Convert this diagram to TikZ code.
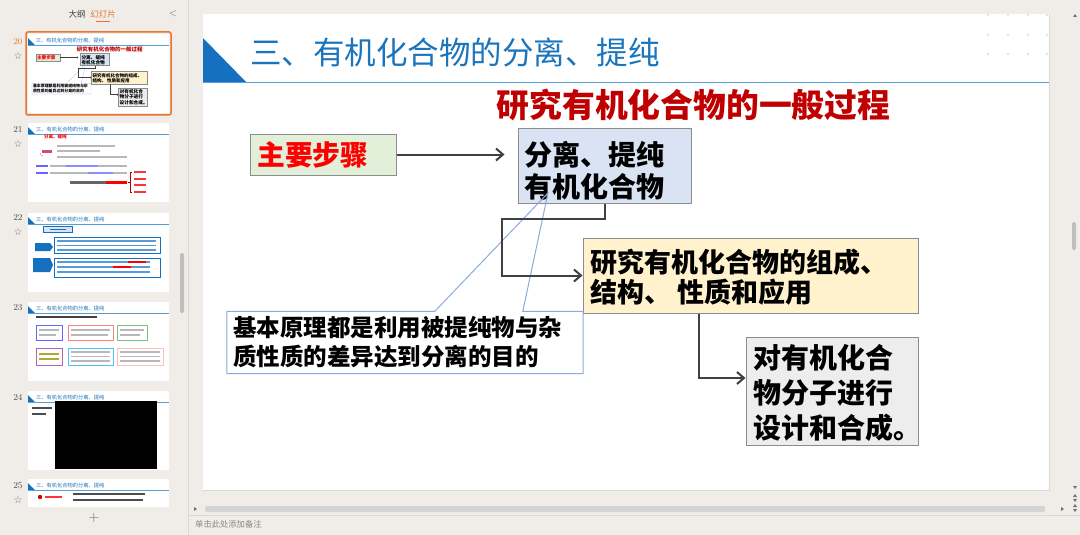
\documentclass[tikz,border=0pt]{standalone}
\usepackage{fontspec}
\newfontfamily\cjk{Noto Sans CJK SC}
\newfontfamily\dejavu{DejaVu Sans}
\usetikzlibrary{arrows.meta,calc}
\definecolor{pagebg}{HTML}{F0EDE8}
\definecolor{sepline}{HTML}{DCD8D2}
\definecolor{titleblue}{HTML}{1B75BC}
\definecolor{triblue}{HTML}{1570C0}
\definecolor{lineblue}{HTML}{5A9FD4}
\definecolor{dotblue}{HTML}{D6E6F4}
\definecolor{boxgray}{HTML}{8C8C8C}
\definecolor{fillgreen}{HTML}{E2EFD9}
\definecolor{fillblue}{HTML}{DAE3F3}
\definecolor{fillyellow}{HTML}{FFF2CC}
\definecolor{fillgray}{HTML}{EDEDED}
\definecolor{conngray}{HTML}{404040}
\definecolor{subred}{HTML}{C00000}
\definecolor{calloutblue}{HTML}{8FAADC}
\definecolor{selorange}{HTML}{E8742E}
\definecolor{uigray}{HTML}{8A8784}
\definecolor{bargray}{HTML}{B8B8B8}
\def\sf{1}
\tikzset{
  box/.style={draw=boxgray, line width=\sf*1pt, inner sep=0pt},
  boxtext/.style={inner sep=0pt, anchor=west, align=left},
  conn/.style={draw=conngray, line width=\sf*2pt, -{Straight Barb[length=0pt 3.5,width=0pt 6]}},
  uitext/.style={inner sep=0pt, font=\cjk\fontsize{9}{10}\selectfont, text=uigray},
}
% whole slide, slide-local coordinates in px
\newcommand\slidecontent{%
  \fill[white] (0,0) rectangle (846,476);
  \fill[triblue] (0,24) -- (0,69) -- (44,69) -- cycle;
  \draw[lineblue, line width=\sf*1pt] (0,69) -- (846,69);
  \foreach \dx in {785,805,825,844}{\foreach \dy in {1,21,40}{\fill[dotblue] (\dx,\dy) circle (1.3);}}
  \node[inner sep=0pt, anchor=west, text=titleblue, font=\cjk\fontsize{31.5}{34}\selectfont] (ttl) at (47,38) {三、有机化合物的分离、提纯};
  \node[inner sep=0pt, text=subred, font=\cjk\bfseries\fontsize{32.8}{36}\selectfont] (sub) at (490.5,91) {研究有机化合物的一般过程};
  % boxes
  \node[box, fill=fillgreen, minimum width=146, minimum height=41] (b0) at (120,140.5) {};
  \node[box, fill=fillblue, minimum width=173, minimum height=75] (b1) at (401.5,151.5) {};
  \node[box, fill=fillyellow, minimum width=335, minimum height=75] (b2) at (547.5,261.5) {};
  \node[box, fill=fillgray, minimum width=172, minimum height=108] (b3) at (629,377) {};
  \node[boxtext, text=red, font=\cjk\bfseries\fontsize{27.8}{32}\selectfont] (t0) at (54,141) {主要步骤};
  \node[boxtext, font=\cjk\bfseries\fontsize{28}{32}\selectfont] (t1) at (321,157) {分离、提纯\\有机化合物};
  \node[boxtext, font=\cjk\bfseries\fontsize{27}{30}\selectfont] (t2) at (387,263) {研究有机化合物的组成、\\结构、 性质和应用};
  \node[boxtext, font=\cjk\bfseries\fontsize{28}{35}\selectfont] (t3) at (550,379) {对有机化合\\物分子进行\\设计和合成。};
  % callout
  \node[fill=white, minimum width=356, minimum height=62, inner sep=0pt] (cb) at (202,328.5) {};
  \coordinate (tip) at (345,179);
  \draw[calloutblue, line width=\sf*1pt, line join=miter]
    (cb.north west) -- ($(cb.north west)+(208,0)$) -- (tip) -- ($(cb.north west)+(296,0)$)
    -- (cb.north east) -- (cb.south east) -- (cb.south west) -- cycle;
  \node[boxtext, font=\cjk\bfseries\fontsize{23.5}{29}\selectfont] (tc) at (30,328.5) {基本原理都是利用被提纯物与杂\\质性质的差异达到分离的目的};
  % connectors
  \coordinate (k1) at (299,205);
  \draw[conn] (b0.east) -- ($(b1.west |- b0.east)+(-13,0)$);
  \draw[conn] (b1.south) |- (k1) |- (b2.west);
  \draw[conn] ($(b2.south)+(-51.5,0)$) |- ($(b3.west)+(0,-13)$);
}
% thumbnail header, thumb-local coordinates
\newcommand\thumbhead[1]{%
  \fill[white] (0,0) rectangle (141,79);
  \fill[triblue] (0,4) -- (0,11.5) -- (7.3,11.5) -- cycle;
  \draw[lineblue, line width=0.3pt] (0,11.5) -- (141,11.5);
  \node[inner sep=0pt, anchor=west, text=titleblue, font=\cjk\fontsize{5.25}{6}\selectfont] (#1) at (7.8,6.4) {三、有机化合物的分离、提纯};
}
\begin{document}
\begin{tikzpicture}[x=1pt, y=-1pt]
\useasboundingbox (0,0) rectangle (1080,535);
\fill[pagebg] (0,0) rectangle (1080,535);
\draw[sepline, line width=1pt] (188,0) -- (188,535);
\draw[sepline, line width=0.6pt] (188,515) -- (1080,515);
% left panel header
\node[uitext, text=black!75, font=\cjk\fontsize{8.5}{10}\selectfont] (tabA) at (77,14) {大纲};
\node[uitext, text=selorange, font=\cjk\fontsize{8.5}{10}\selectfont] (tabB) at (103,14) {幻灯片};
\draw[selorange, line width=1pt] (96,21.5) -- (110,21.5);
\node[uitext, text=black!60, font=\fontsize{11}{12}\selectfont] (back) at (173,14) {<};
% slide numbers
\foreach \n/\yy in {21/130,22/218,23/308,24/397,25/486}{
  \node[uitext, font=\fontsize{9}{10}\selectfont, text=black!70] (num\n) at (18,\yy) {\n};
}
\node[uitext, font=\fontsize{9}{10}\selectfont, text=selorange] (num20) at (18,42) {20};
\foreach \yy [count=\i] in {56,144,232,500}{
  \node[inner sep=0pt, text=black!55, font=\dejavu\fontsize{10}{11}\selectfont] (star\i) at (18,\yy) {☆};
}
% selected thumbnail 20
\draw[selorange, line width=1.5pt, rounded corners=2pt] (26,32) rectangle (171,115);
\begin{scope}[shift={(28,34)}, scale=1/6, transform shape, name prefix=s20-]
  \def\sf{0.1667}
  \slidecontent
\end{scope}
% thumbnail 21
\begin{scope}[shift={(28,123)}]
  \thumbhead{h21}
  \node[inner sep=0pt, anchor=west, text=red, font=\cjk\bfseries\fontsize{4.5}{5}\selectfont] (r21a) at (16,14) {分离、提纯};
  \fill[bargray] (29,22) rectangle (87,24);
  \fill[bargray] (29,27) rectangle (72,29);
  \fill[bargray] (29,33) rectangle (99,35);
  \fill[purple!70] (14,27) rectangle (24,29.5);
  \draw[red!60, line width=0.4pt] (12,30) arc (180:90:3);
  \fill[blue!60] (8,42) rectangle (20,44);
  \fill[bargray] (22,42) rectangle (99,44);
  \fill[blue!45] (38,42) rectangle (70,44);
  \fill[blue!60] (8,49) rectangle (20,51);
  \fill[bargray] (22,49) rectangle (99,51);
  \fill[blue!45] (60,49) rectangle (85,51);
  \fill[black!60] (42,58) rectangle (78,60.5);
  \fill[red] (78,58) rectangle (99,60.5);
  \draw[red!70!black, line width=0.4pt] (104,49) -- (102,49) -- (102,69) -- (104,69) (100,59) -- (102,59);
  \foreach \yy in {49,55.5,62,69}{\fill[red!80] (106,\yy-1) rectangle (118,\yy+1);}
\end{scope}
% thumbnail 22
\begin{scope}[shift={(28,213)}]
  \thumbhead{h22}
  \draw[fill=fillblue, draw=triblue, line width=0.4pt] (15,13) rectangle (44,19);
  \fill[triblue] (22,15.5) rectangle (38,17);
  \draw[draw=triblue, line width=0.5pt] (26,24) rectangle (132,40);
  \draw[draw=triblue, line width=0.5pt] (26,45) rectangle (132,64);
  \fill[triblue] (7,30) -- (22,30) -- (25,34) -- (22,38) -- (7,38) -- cycle;
  \fill[triblue] (5,45) -- (22,45) -- (25,52) -- (22,59) -- (5,59) -- cycle;
  \foreach \yy in {28,32.5,37}{\fill[triblue!70] (29,\yy-0.8) rectangle (128,\yy+0.8);}
  \foreach \yy in {49,54,59}{\fill[triblue!70] (29,\yy-0.8) rectangle (122,\yy+0.8);}
  \fill[red] (100,48.2) rectangle (118,49.8);
  \fill[red] (85,53.2) rectangle (103,54.8);
\end{scope}
% thumbnail 23
\begin{scope}[shift={(28,302)}]
  \thumbhead{h23}
  \fill[black!75] (8,14) rectangle (69,16);
  \draw[blue!60, line width=0.4pt] (8,23) rectangle (34,38);
  \draw[red!50, line width=0.4pt] (40,23) rectangle (85,38);
  \draw[green!50!black!50, line width=0.4pt] (89,23) rectangle (119,38);
  \draw[violet!60, line width=0.4pt] (8,46) rectangle (34,63);
  \draw[cyan!70, line width=0.4pt] (40,46) rectangle (85,63);
  \draw[pink, line width=0.4pt] (89,46) rectangle (135,63);
  \fill[bargray] (11,27) rectangle (31,29); \fill[bargray] (11,32) rectangle (28,34);
  \fill[bargray] (43,27) rectangle (82,29); \fill[bargray] (43,32) rectangle (80,34);
  \fill[bargray] (92,27) rectangle (116,29); \fill[bargray] (92,32) rectangle (112,34);
  \fill[olive!70] (11,51) rectangle (31,53); \fill[olive!70] (11,56) rectangle (31,58);
  \foreach \yy in {50,54.5,59}{\fill[bargray] (43,\yy-0.8) rectangle (82,\yy+0.8); \fill[bargray] (92,\yy-0.8) rectangle (132,\yy+0.8);}
\end{scope}
% thumbnail 24
\begin{scope}[shift={(28,391)}]
  \thumbhead{h24}
  \fill[black] (27,10) rectangle (129,78);
  \fill[black!70] (4,16) rectangle (24,18);
  \fill[black!70] (4,22) rectangle (18,24);
\end{scope}
% thumbnail 25 (cut off)
\begin{scope}[shift={(28,479)}]
  \clip (-1,-1) rectangle (142,27);
  \thumbhead{h25}
  \fill[red!80!black] (12,18) circle (2.2);
  \fill[red!80] (17,17) rectangle (34,19);
  \fill[black!70] (45,14) rectangle (117,16);
  \fill[black!70] (45,20) rectangle (115,22);
\end{scope}
\node[uitext, text=black!60, font=\fontsize{14}{14}\selectfont] (plus) at (94,518) {+};
% left panel scrollbar
\fill[black!25, rounded corners=1.5pt] (180,253) rectangle (184,313);
% main slide
\draw[black!15, line width=0.6pt] (203,14) rectangle (1049,490);
\begin{scope}[shift={(203,14)}]
  \slidecontent
\end{scope}
% right scrollbar
\fill[black!25, rounded corners=1.5pt] (1072,222) rectangle (1076,250);
\fill[black!55] (1073,17) -- (1077,17) -- (1075,14) -- cycle;
\fill[black!55] (1073,486) -- (1077,486) -- (1075,489) -- cycle;
\fill[black!55] (1073,497) -- (1077,497) -- (1075,494) -- cycle;
\fill[black!55] (1073,499) -- (1077,499) -- (1075,502) -- cycle;
\fill[black!55] (1073,507) -- (1077,507) -- (1075,504) -- cycle;
\fill[black!55] (1073,509) -- (1077,509) -- (1075,512) -- cycle;
% horizontal scrollbar
\fill[black!17, rounded corners=2pt] (205,506) rectangle (1045,512);
\fill[black!55] (197,509) -- (194,507) -- (194,511) -- cycle;
\fill[black!55] (1061,507) -- (1064,509) -- (1061,511) -- cycle;
% notes
\node[uitext, anchor=west, font=\cjk\fontsize{8.3}{9}\selectfont] (notes) at (195,524) {单击此处添加备注};
\end{tikzpicture}
\end{document}
